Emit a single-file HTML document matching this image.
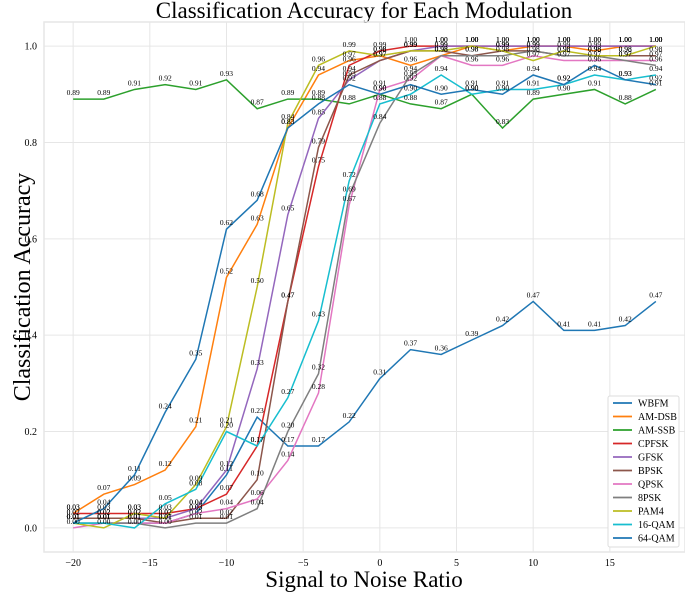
<!DOCTYPE html>
<html><head><meta charset="utf-8"><style>
body{margin:0;background:#fff}
svg text{font-family:"Liberation Serif",serif}
</style></head><body>
<svg id="chart" width="685" height="592" xmlns="http://www.w3.org/2000/svg">
<text x="364" y="18" font-size="23" text-anchor="middle">Classification Accuracy for Each Modulation</text>
<text transform="translate(30,287) rotate(-90)" font-size="24" text-anchor="middle">Classification Accuracy</text>
<text x="364" y="587" font-size="23" text-anchor="middle">Signal to Noise Ratio</text>
<g id="grid"></g><g id="lines"></g><g id="labels"></g><g id="legend"></g>
</svg>
<script>
const snr=[-20,-18,-16,-14,-12,-10,-8,-6,-4,-2,0,2,4,6,8,10,12,14,16,18];
const xTicks=[-20,-15,-10,-5,0,5,10,15];
const yTicks=[0.0,0.2,0.4,0.6,0.8,1.0];
const names=["WBFM","AM-DSB","AM-SSB","CPFSK","GFSK","BPSK","QPSK","8PSK","PAM4","16-QAM","64-QAM"];
const colors=["#1f77b4","#ff7f0e","#2ca02c","#d62728","#9467bd","#8c564b","#e377c2","#7f7f7f","#bcbd22","#17becf","#1f77b4"];
const wbfm=[0.01,0.01,0.01,0.01,0.03,0.11,0.23,0.17,0.17,0.22,0.31,0.37,0.36,0.39,0.42,0.47,0.41,0.41,0.42,0.47];
const amdsb=[0.03,0.07,0.09,0.12,0.21,0.52,0.63,0.83,0.94,0.97,0.98,0.96,0.98,1.00,0.99,1.00,1.00,0.99,1.00,1.00];
const amssb=[0.89,0.89,0.91,0.92,0.91,0.93,0.87,0.89,0.89,0.88,0.90,0.88,0.87,0.90,0.83,0.89,0.90,0.91,0.88,0.91];
const cpfsk=[0.03,0.03,0.03,0.03,0.04,0.07,0.17,0.47,0.75,0.96,0.99,1.00,1.00,1.00,1.00,1.00,1.00,1.00,1.00,1.00];
const gfsk=[0.02,0.02,0.02,0.02,0.04,0.12,0.33,0.65,0.85,0.93,0.97,0.99,1.00,1.00,1.00,1.00,1.00,1.00,1.00,1.00];
const bpsk=[0.02,0.02,0.02,0.01,0.02,0.02,0.10,0.47,0.79,0.94,0.97,0.99,0.99,0.98,0.99,0.99,0.98,0.98,0.98,0.98];
const qpsk=[0.00,0.01,0.01,0.01,0.03,0.04,0.06,0.14,0.28,0.67,0.91,0.93,0.98,0.96,0.96,0.98,0.97,0.97,0.97,0.97];
const psk8=[0.01,0.01,0.01,0.00,0.01,0.01,0.04,0.20,0.32,0.69,0.84,0.94,0.98,0.98,0.98,0.99,0.98,0.98,0.97,0.96];
const pam4=[0.01,0.00,0.03,0.02,0.09,0.21,0.50,0.84,0.96,0.99,0.98,0.99,0.99,1.00,0.99,0.97,0.99,0.98,0.98,1.00];
const qam16=[0.01,0.01,0.00,0.05,0.08,0.20,0.17,0.27,0.43,0.72,0.88,0.90,0.94,0.90,0.91,0.91,0.92,0.94,0.93,0.94];
const qam64=[0.01,0.04,0.11,0.24,0.35,0.62,0.68,0.83,0.88,0.92,0.90,0.92,0.90,0.91,0.90,0.94,0.92,0.96,0.93,0.92];
const series=[wbfm,amdsb,amssb,cpfsk,gfsk,bpsk,qpsk,psk8,pam4,qam16,qam64];
const L=44,R=685,T=22,B=552,xmin=-21.9,xmax=19.9,ymin=-0.05,ymax=1.05;
const X=v=>L+(v-xmin)/(xmax-xmin)*(R-L);
const Y=v=>B-(v-ymin)/(ymax-ymin)*(B-T);
const NS="http://www.w3.org/2000/svg";
function mk(t,a,p){const e=document.createElementNS(NS,t);for(const k in a)e.setAttribute(k,a[k]);p.appendChild(e);return e;}
const grid=document.getElementById('grid');
const frame=mk('rect',{x:L,y:T,width:R-L,height:B-T,fill:'none',stroke:'#e6e6e6','stroke-width':1.5},grid);


xTicks.forEach(v=>{
  const g=mk('line',{x1:X(v),x2:X(v),y1:T,y2:B,stroke:'#e6e6e6','stroke-width':1},grid);
  
  
  const t=mk('text',{x:X(v),y:B+14,'font-size':10,'text-anchor':'middle'},grid);t.textContent=v<0?'\u2212'+(-v):v;
  
  
});
yTicks.forEach(v=>{
  const g=mk('line',{x1:L,x2:R,y1:Y(v),y2:Y(v),stroke:'#e6e6e6','stroke-width':1},grid);
  
  
  const t=mk('text',{x:L-7,y:Y(v)+3.5,'font-size':10,'text-anchor':'end'},grid);t.textContent=v.toFixed(1);
  
  
});
const lines=document.getElementById('lines'),labels=document.getElementById('labels');
series.forEach((s,i)=>{
  const p=mk('polyline',{points:s.map((v,j)=>X(snr[j])+','+Y(v)).join(' '),fill:'none',stroke:colors[i],'stroke-width':1.5},lines);
  
  
  s.forEach((v,j)=>{
    const t=mk('text',{x:X(snr[j]),y:Y(v)-4,'font-size':7.5,'text-anchor':'middle'},labels);t.textContent=v.toFixed(2);
    
    
  });
});
const lg=document.getElementById('legend');
const box=mk('rect',{x:608,y:396,width:71,height:151,fill:'#fff',stroke:'#ddd','stroke-width':1,rx:2},lg);


names.forEach((n,i)=>{
  const y=403+i*13.5;
  const l=mk('line',{x1:613,x2:632,y1:y,y2:y,stroke:colors[i],'stroke-width':1.8},lg);
  
  
  const t=mk('text',{x:638,y:y+3.5,'font-size':10},lg);t.textContent=n;
  
  
});
</script>
</body></html>
